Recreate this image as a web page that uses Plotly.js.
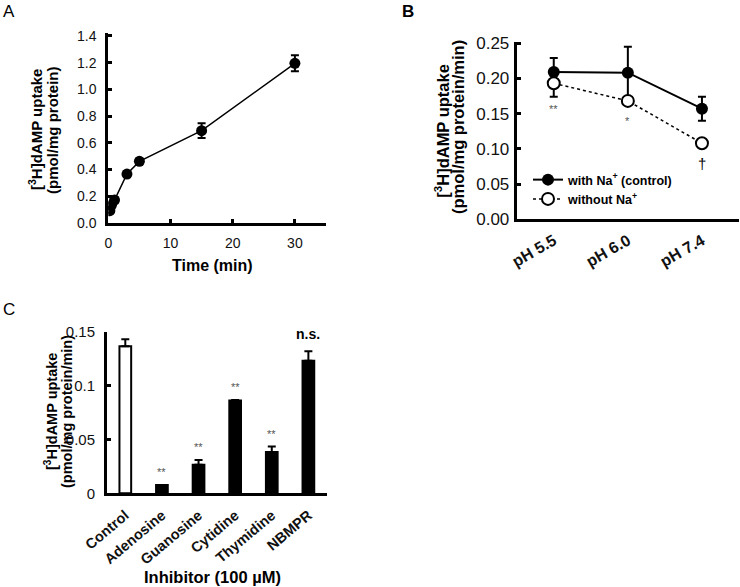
<!DOCTYPE html>
<html>
<head>
<meta charset="utf-8">
<script src="https://cdn.plot.ly/plotly-3.0.1.min.js"></script>
<style>
  html, body { margin: 0; padding: 0; background: #fff; }
  #chart { width: 740px; height: 587px; }
</style>
</head>
<body>
<div id="chart"></div>
<script>
// ---------- Panel A: time course ----------
const timeMin = [0.25, 0.5, 1, 3, 5, 15, 30];
const uptakeA = [0.09, 0.13, 0.17, 0.365, 0.46, 0.69, 1.195];
const errA = [0.015, 0.015, 0.02, 0.02, 0.02, 0.055, 0.06];

// ---------- Panel B: pH dependence ----------
const phLabels = ['pH 5.5', 'pH 6.0', 'pH 7.4'];
const withNa = [0.209, 0.208, 0.157];
const withNaErr = [0.02, 0.037, 0.017];
const withoutNa = [0.193, 0.168, 0.108];
const withoutNaErr = [0.019, 0, 0];
const signifB = ['**', '*', '†'];

// ---------- Panel C: inhibitors ----------
const inhibitors = ['Control', 'Adenosine', 'Guanosine', 'Cytidine', 'Thymidine', 'NBMPR'];
const uptakeC = [0.137, 0.0078, 0.0265, 0.0865, 0.0385, 0.1235];
const errC = [0.0065, 0, 0.0045, 0.0005, 0.005, 0.0088];
const signifC = ['', '**', '**', '**', '**', 'n.s.'];

const W = 740, H = 587;
const px = v => v / W;
const py = v => 1 - v / H;
const FONT = 'Liberation Sans, Arial, sans-serif';

const traces = [
  {
    x: timeMin, y: uptakeA, xaxis: 'x', yaxis: 'y', type: 'scatter', mode: 'lines+markers',
    line: {color: '#000', width: 1.5},
    marker: {color: '#000', size: 11, symbol: 'circle'},
    error_y: {type: 'data', array: errA, visible: true, color: '#000', thickness: 2, width: 4},
    showlegend: false
  },
  {
    x: phLabels, y: withNa, xaxis: 'x2', yaxis: 'y2', type: 'scatter', mode: 'lines+markers',
    name: 'with Na<sup>+</sup> (control)',
    line: {color: '#000', width: 2},
    marker: {color: '#000', size: 12, symbol: 'circle'},
    error_y: {type: 'data', array: withNaErr, visible: true, color: '#000', thickness: 2, width: 4}
  },
  {
    x: phLabels, y: withoutNa, xaxis: 'x2', yaxis: 'y2', type: 'scatter', mode: 'lines+markers',
    name: 'without Na<sup>+</sup>',
    line: {color: '#000', width: 1.5, dash: 'dot'},
    marker: {color: '#fff', size: 12, symbol: 'circle', line: {color: '#000', width: 2}},
    error_y: {type: 'data', array: withoutNaErr, visible: true, color: '#000', thickness: 2, width: 4}
  },
  {
    x: inhibitors, y: uptakeC, xaxis: 'x3', yaxis: 'y3', type: 'bar', width: 0.32,
    marker: {color: inhibitors.map((c, i) => i === 0 ? '#fff' : '#000'), line: {color: '#000', width: 2}},
    error_y: {type: 'data', symmetric: false, array: errC, arrayminus: errC.map(() => 0),
              visible: true, color: '#000', thickness: 2, width: 4},
    showlegend: false
  }
];

const tickFont = {family: FONT, size: 14, color: '#111'};
const axisCommon = {
  showgrid: false, zeroline: false, showline: true, linecolor: '#000', linewidth: 3,
  ticks: 'inside', tickcolor: '#000', tickwidth: 3, ticklen: 4, tickfont: tickFont, fixedrange: true
};

const annotations = [];
function ann(o) { annotations.push(Object.assign({showarrow: false, font: {family: FONT, size: 14, color: '#000'}}, o)); }

// Panel letters
ann({text: 'A', xref: 'paper', yref: 'paper', x: px(9), y: py(11), xanchor: 'center', yanchor: 'middle', font: {family: FONT, size: 17, color: '#000'}});
ann({text: '<b>B</b>', xref: 'paper', yref: 'paper', x: px(407.5), y: py(11), xanchor: 'center', yanchor: 'middle', font: {family: FONT, size: 17, color: '#000'}});
ann({text: 'C', xref: 'paper', yref: 'paper', x: px(9), y: py(309), xanchor: 'center', yanchor: 'middle', font: {family: FONT, size: 17, color: '#000'}});

// Axis titles A
ann({text: '<b>[<sup>3</sup>H]dAMP uptake</b>', xref: 'paper', yref: 'paper', x: px(36), y: py(130), textangle: -90, xanchor: 'center', yanchor: 'middle', font: {family: FONT, size: 15, color: '#000'}});
ann({text: '<b>(pmol/mg protein)</b>', xref: 'paper', yref: 'paper', x: px(53), y: py(130), textangle: -90, xanchor: 'center', yanchor: 'middle', font: {family: FONT, size: 15, color: '#000'}});
ann({text: '<b>Time (min)</b>', xref: 'paper', yref: 'paper', x: px(212), y: py(265), xanchor: 'center', yanchor: 'middle', font: {family: FONT, size: 16, color: '#000'}});

// Axis titles B
ann({text: '<b>[<sup>3</sup>H]dAMP uptake</b>', xref: 'paper', yref: 'paper', x: px(441.7), y: py(131), textangle: -90, xanchor: 'center', yanchor: 'middle', font: {family: FONT, size: 16.5, color: '#000'}});
ann({text: '<b>(pmol/mg protein/min)</b>', xref: 'paper', yref: 'paper', x: px(458), y: py(127), textangle: -90, xanchor: 'center', yanchor: 'middle', font: {family: FONT, size: 16.5, color: '#000'}});

// Axis titles C
ann({text: '<b>[<sup>3</sup>H]dAMP uptake</b>', xref: 'paper', yref: 'paper', x: px(51), y: py(412), textangle: -90, xanchor: 'center', yanchor: 'middle', font: {family: FONT, size: 14.5, color: '#000'}});
ann({text: '<b>(pmol/mg protein/min)</b>', xref: 'paper', yref: 'paper', x: px(67), y: py(412), textangle: -90, xanchor: 'center', yanchor: 'middle', font: {family: FONT, size: 14.5, color: '#000'}});
ann({text: '<b>Inhibitor (100 µM)</b>', xref: 'paper', yref: 'paper', x: px(212), y: py(577), xanchor: 'center', yanchor: 'middle', font: {family: FONT, size: 16.5, color: '#000'}});

// Significance marks B (below open circles)
phLabels.forEach((p, i) => {
  ann({text: signifB[i], xref: 'x2', yref: 'y2', x: p, y: withoutNa[i], xanchor: 'center', yanchor: 'middle',
       yshift: i === 0 ? -26 : -20,
       font: {family: FONT, size: i === 2 ? 15 : 11, color: i === 2 ? '#000' : '#555'}});
});

// Significance marks C (above bars)
inhibitors.forEach((c, i) => {
  if (!signifC[i]) return;
  const ns = signifC[i] === 'n.s.';
  ann({text: ns ? '<b>n.s.</b>' : signifC[i], xref: 'x3', yref: 'y3', x: c, y: uptakeC[i] + errC[i],
       xanchor: 'center', yanchor: 'middle', yshift: ns ? 17 : 13,
       font: {family: FONT, size: ns ? 14 : 11, color: ns ? '#000' : '#555'}});
});

const layout = {
  width: W, height: H,
  margin: {l: 0, r: 0, t: 0, b: 0, pad: 0},
  paper_bgcolor: '#fff', plot_bgcolor: 'rgba(0,0,0,0)',
  font: {family: FONT, color: '#000'},
  xaxis: Object.assign({}, axisCommon, {domain: [px(108.3), px(326)], range: [0, 35], tickvals: [0, 10, 20, 30], ticklabelstandoff: 5, anchor: 'y'}),
  yaxis: Object.assign({}, axisCommon, {domain: [py(222.7), py(33.3)], range: [0, 1.42], tickvals: [0, 0.2, 0.4, 0.6, 0.8, 1.0, 1.2, 1.4], tickformat: '.1f', ticklabelstandoff: 6, anchor: 'x'}),
  xaxis2: Object.assign({}, axisCommon, {domain: [px(516.7), px(739)], range: [-0.5, 2.5], type: 'category', ticks: '', tickangle: -30,
            ticklabelstandoff: 3, tickfont: {family: FONT, size: 16, color: '#111', weight: 'bold'}, anchor: 'y2'}),
  yaxis2: Object.assign({}, axisCommon, {domain: [py(219.3), py(41.7)], range: [0, 0.252], tickvals: [0, 0.05, 0.1, 0.15, 0.2, 0.25], tickformat: '.2f',
            ticklabelstandoff: 1, tickfont: {family: FONT, size: 17, color: '#111'}, anchor: 'x2'}),
  xaxis3: Object.assign({}, axisCommon, {domain: [px(107), px(326.7)], range: [-0.5, 5.5], type: 'category', ticks: '', tickangle: -40,
            ticklabelstandoff: 5, tickfont: {family: FONT, size: 14.5, color: '#111', weight: 'bold'}, anchor: 'y3'}),
  yaxis3: Object.assign({}, axisCommon, {domain: [py(493.3), py(331.7)], range: [0, 0.1505], tickvals: [0, 0.05, 0.1, 0.15], ticktext: ['0', '0.05', '0.1', '0.15'],
            ticklabelstandoff: 6, tickfont: {family: FONT, size: 15, color: '#111'}, anchor: 'x3'}),
  showlegend: true,
  legend: {x: px(528), y: py(189.5), xanchor: 'left', yanchor: 'middle', bgcolor: 'rgba(0,0,0,0)', borderwidth: 0,
           font: {family: FONT, size: 12.5, color: '#000', weight: 'bold'}, traceorder: 'normal'},
  annotations: annotations
};

Plotly.newPlot('chart', traces, layout, {displayModeBar: false, staticPlot: true});
</script>
</body>
</html>
